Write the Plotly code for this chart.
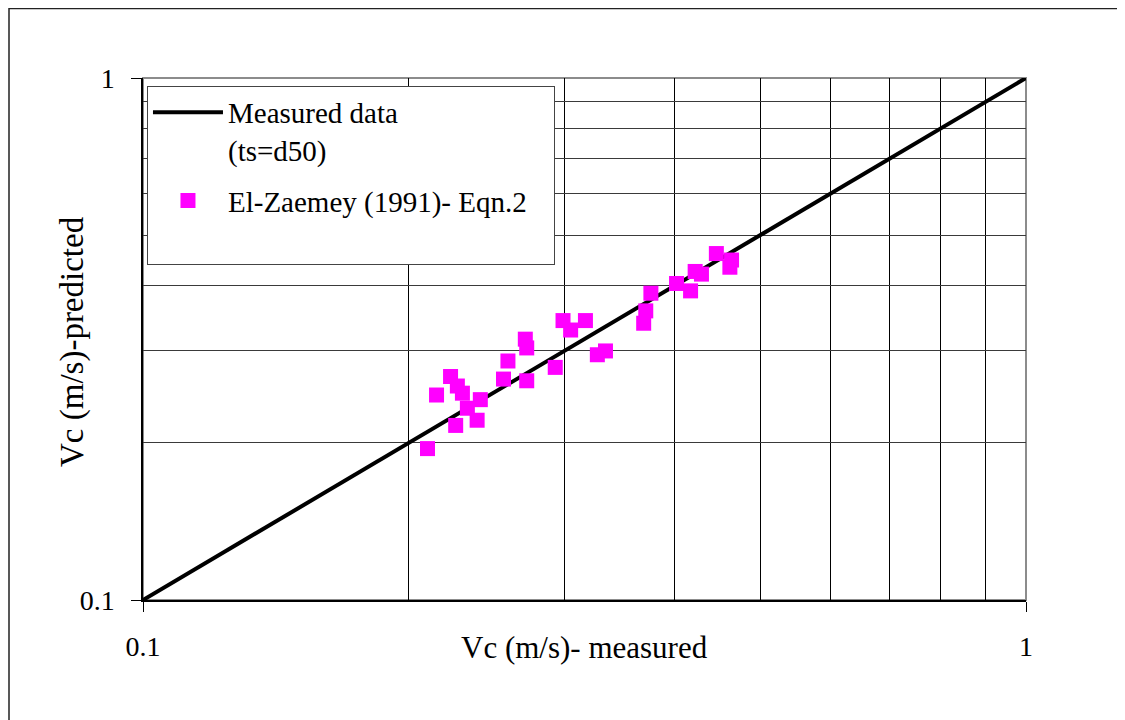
import plotly.graph_objects as go

# Measured-data reference line (1:1)
line_x = [0.1, 1.0]
line_y = [0.1, 1.0]

# El-Zaemey (1991) Eqn.2 : measured vs predicted Vc (m/s)
measured = [0.210, 0.215, 0.223, 0.227, 0.230, 0.241, 0.233, 0.226, 0.239,
            0.256, 0.259, 0.271, 0.272, 0.272, 0.293, 0.299, 0.305, 0.317,
            0.327, 0.334, 0.369, 0.371, 0.376, 0.402, 0.417, 0.422, 0.429,
            0.446, 0.464, 0.462]
predicted = [0.195, 0.247, 0.268, 0.257, 0.249, 0.242, 0.233, 0.216, 0.221,
             0.265, 0.287, 0.316, 0.304, 0.263, 0.279, 0.343, 0.329, 0.343,
             0.295, 0.300, 0.339, 0.358, 0.387, 0.404, 0.391, 0.426, 0.421,
             0.461, 0.448, 0.434]

tick_vals = [0.1, 1.0]
tick_text = ["0.1", "1"]
grid_vals = [0.2, 0.3, 0.4, 0.5, 0.6, 0.7, 0.8, 0.9]

FONT = "Liberation Serif, Times New Roman, serif"

fig = go.Figure()
fig.add_trace(go.Scatter(
    x=line_x, y=line_y, mode="lines",
    line=dict(color="black", width=4),
    name="Measured data<br>(ts=d50)", legendgroup="a",
))
fig.add_trace(go.Scatter(
    x=measured, y=predicted, mode="markers",
    marker=dict(symbol="square", size=15, color="#FF00FF", line=dict(width=0)),
    name="El-Zaemey (1991)- Eqn.2&nbsp;&nbsp;&nbsp;<br>&nbsp;", legendgroup="b",
))

fig.update_layout(
    width=1125, height=720,
    margin=dict(l=135, r=107, t=70, b=128),
    paper_bgcolor="white", plot_bgcolor="white",
    font=dict(family=FONT, color="black", size=28),
    showlegend=True,
    legend=dict(
        x=0.0045, y=0.985, xanchor="left", yanchor="top",
        bgcolor="white", bordercolor="#444444", borderwidth=1,
        font=dict(family=FONT, size=29, color="black"),
        itemwidth=70, valign="top", tracegroupgap=10,
        traceorder="grouped",
    ),
    xaxis=dict(
        type="log", range=[-1, 0],
        tickmode="array", tickvals=tick_vals, ticktext=tick_text,
        ticks="outside", ticklen=10, tickcolor="black", tickwidth=1,
        ticklabelstandoff=10,
        showgrid=False, zeroline=False,
        showline=True, linecolor="black", linewidth=2,
        minor=dict(tickmode="array", tickvals=grid_vals, showgrid=True,
                   gridcolor="black", gridwidth=1, ticks=""),
        tickfont=dict(family=FONT, size=28),
    ),
    yaxis=dict(
        type="log", range=[-1, 0],
        tickmode="array", tickvals=tick_vals, ticktext=tick_text,
        ticks="outside", ticklen=10, tickcolor="black", tickwidth=1,
        ticklabelstandoff=11,
        showgrid=False, zeroline=False,
        showline=True, linecolor="black", linewidth=1.5,
        minor=dict(tickmode="array", tickvals=grid_vals, showgrid=True,
                   gridcolor="#3a3a3a", gridwidth=1, ticks=""),
        tickfont=dict(family=FONT, size=28),
    ),
    shapes=[
        # gray plot-area frame (top/right)
        dict(type="rect", xref="paper", yref="paper", x0=0, y0=0, x1=1, y1=1,
             line=dict(color="#8c8c8c", width=2), layer="below"),
        # outer chart border
        dict(type="rect", xref="paper", yref="paper",
             x0=(9 - 143) / 883, y0=-0.25, x1=1.13, y1=(600 - 8.5) / 522,
             line=dict(color="#222222", width=1.5), layer="below"),
    ],
    annotations=[
        dict(text="Vc (m/s)- measured", xref="paper", yref="paper",
             x=(584 - 143) / 883, y=(600 - 648) / 522,
             xanchor="center", yanchor="middle", showarrow=False,
             font=dict(family=FONT, size=31)),
        dict(text="Vc (m/s)-predicted", xref="paper", yref="paper",
             x=(72 - 143) / 883, y=(600 - 342) / 522,
             xanchor="center", yanchor="middle", showarrow=False,
             textangle=-90, font=dict(family=FONT, size=33)),
    ],
)

fig.write_html("out.html")
